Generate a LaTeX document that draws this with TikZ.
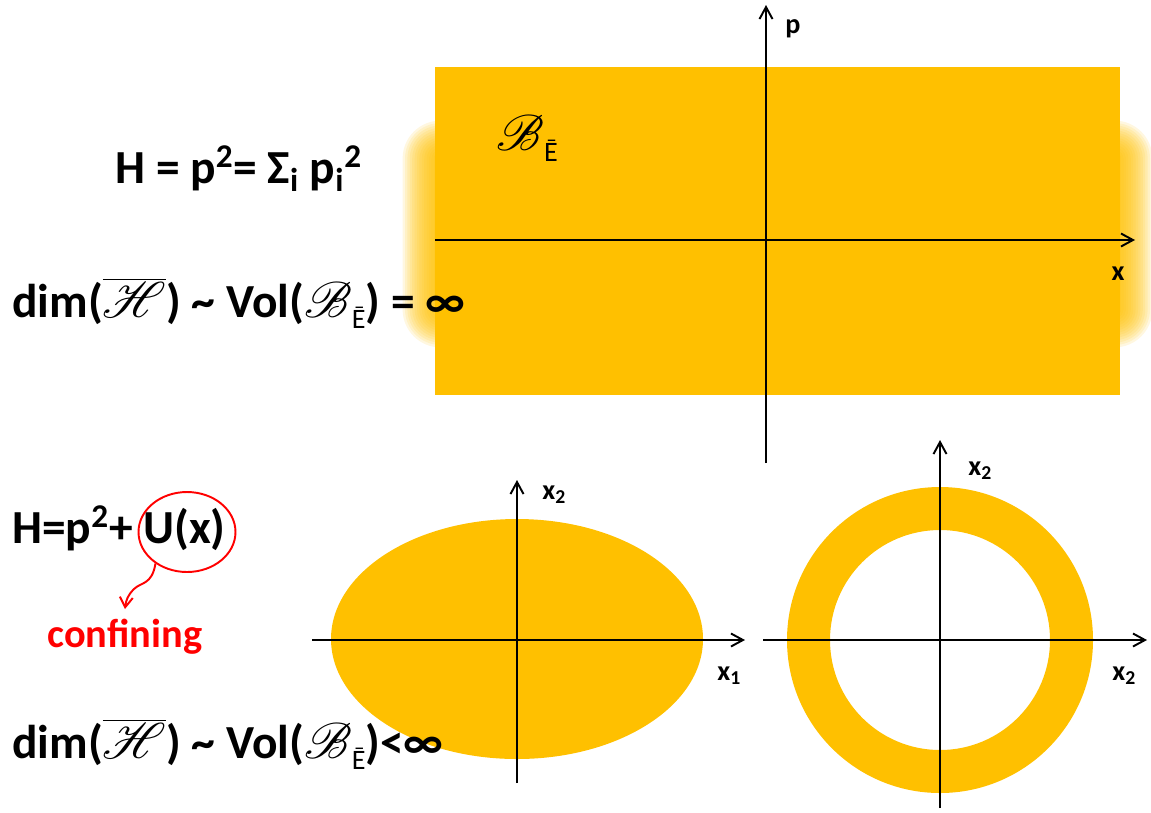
\documentclass[tikz,border=0pt]{standalone}
\usepackage{fontspec}
\setmainfont{Carlito}
\usepackage{mathrsfs}
\usetikzlibrary{arrows.meta,shapes.geometric}
\definecolor{bandgold}{HTML}{FFC000}
\definecolor{confred}{HTML}{FF0000}
\tikzset{
  axis/.style={-{Straight Barb[length=2.4mm,width=2.6mm]},line width=1.1pt,black},
  eqn/.style={anchor=base west,inner sep=0pt,font=\bfseries\fontsize{27}{32}\selectfont},
  axlab/.style={anchor=base west,inner sep=0pt,font=\bfseries\fontsize{16}{19}\selectfont},
}
% script B with the barred E as index
\newcommand{\Bbar}{\scalebox{1.15}{$\mathscr{B}$}\raisebox{-0.5ex}{\mdseries\fontsize{16}{19}\selectfont Ē}}
\newcommand{\Hbar}{$\overline{\scalebox{1.15}{$\mathscr{H}$}}$}

\begin{document}
\begin{tikzpicture}[x=0.02cm,y=-0.02cm]
  \useasboundingbox (0,0) rectangle (1151,812);
  % unbounded band in phase space, blurred left and right
  \foreach \k in {1,...,16}
    \fill[bandgold,opacity=0.12,rounded corners={\k*1.35pt}]
      (422-2.4*\k+19,140-2.4*\k+19) rectangle (1133+2.4*\k-19,328+2.4*\k-19);
  \fill[bandgold] (435,67) rectangle (1120,395);
  \draw[axis] (435,240) -- (1135,240);
  \draw[axis] (766,463) -- (766,5);
  \node[axlab,anchor=base] (plab) at (793,33) {p};
  \node[axlab,anchor=base] (xlab) at (1118,280) {x};
  \node[inner sep=0pt,anchor=base west,font=\fontsize{27}{32}\selectfont] (blab) at (496,150) {\Bbar};

  % ellipse
  \fill[bandgold] (517,639) ellipse [x radius=186,y radius=120];
  \draw[axis] (312,640) -- (745,640);
  \draw[axis] (517,783) -- (517,480);
  \node[axlab] (ex2) at (542,499) {x\textsubscript{2}};
  \node[axlab] (ex1) at (717,680) {x\textsubscript{1}};

  % ring
  \fill[bandgold,even odd rule] (940,640) circle [radius=153] (940,640) circle [radius=110];
  \draw[axis] (763,640) -- (1147,640);
  \draw[axis] (940,808) -- (940,440);
  \node[axlab] (rx2) at (968,475) {x\textsubscript{2}};
  \node[axlab] (rx2b) at (1112,680) {x\textsubscript{2}};

  \node[eqn] (eqtop) at (115,183) {H = p\textsuperscript{2}= Σ\textsubscript{i} p\textsubscript{i}\textsuperscript{2}};
  \node[eqn] (dimtop) at (12,317) {dim(\Hbar) \textasciitilde\ Vol(\Bbar) = ∞};

  % confining potential
  \node[eqn] (eqbot) at (12,543) {H=p\textsuperscript{2}+ U(x)};
  \node[ellipse,draw=confred,line width=1.1pt,minimum width=1.94cm,minimum height=1.6cm] (confcirc) at (187,532) {};
  \node[anchor=base west,inner sep=0pt,text=confred,font=\bfseries\fontsize{23}{27}\selectfont] (conf) at (47,647) {confining};
  \coordinate (conftip) at (125,609);
  \draw[-{Straight Barb[length=2mm,width=2.6mm]},confred,line width=1.1pt]
    (confcirc.225) .. controls (152,585) and (141,582) .. (134,589)
    .. controls (128,595) and (126,600) .. (conftip);
  \node[eqn] (dimbot) at (12,758) {dim(\Hbar) \textasciitilde\ Vol(\Bbar)<∞};
\end{tikzpicture}
\end{document}
